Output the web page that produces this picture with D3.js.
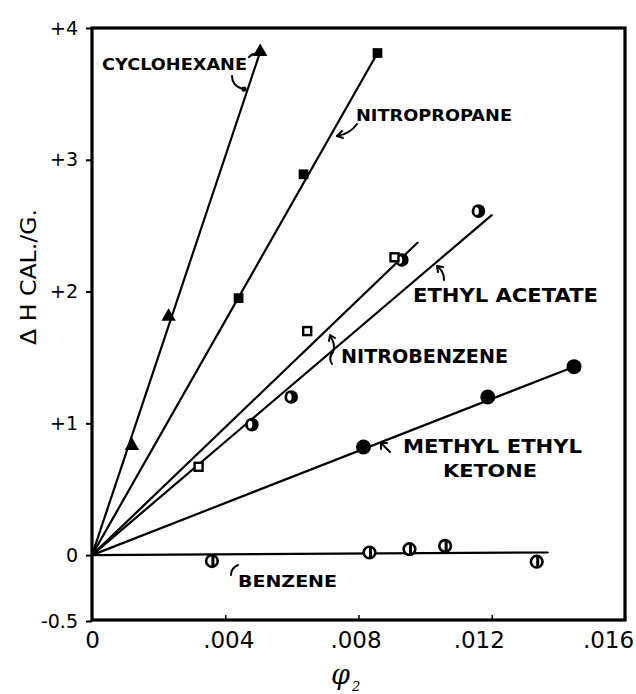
<!DOCTYPE html>
<html>
<head>
<meta charset="utf-8">
<script src="https://cdn.jsdelivr.net/npm/d3@7"></script>
<style>
  html, body { margin: 0; padding: 0; background: #fff; }
  svg { display: block; }
</style>
</head>
<body>
<svg id="chart" width="636" height="694"></svg>
<script>
// ---------------- data ----------------
const seriesNames = ["CYCLOHEXANE", "NITROPROPANE", "NITROBENZENE", "ETHYL ACETATE", "METHYL ETHYL KETONE", "BENZENE"];

const cyclohexaneX = [0.0012, 0.0023, 0.00505];
const cyclohexaneY = [0.83, 1.81, 3.82];

const nitropropaneX = [0.0044, 0.00635, 0.00857];
const nitropropaneY = [1.95, 2.89, 3.81];

const nitrobenzeneX = [0.0032, 0.00646, 0.00908];
const nitrobenzeneY = [0.67, 1.70, 2.26];

const ethylAcetateX = [0.0048, 0.00598, 0.0093, 0.0116];
const ethylAcetateY = [0.99, 1.20, 2.24, 2.61];

const mekX = [0.00815, 0.01188, 0.01447];
const mekY = [0.82, 1.20, 1.43];

const benzeneX = [0.0036, 0.00833, 0.00953, 0.0106, 0.01335];
const benzeneY = [-0.045, 0.02, 0.045, 0.07, -0.05];

// fitted straight lines: all start at the origin, end at these points
const lineEndX = [0.00505, 0.00857, 0.00977, 0.0120, 0.01447, 0.01368];
const lineEndY = [3.82, 3.81, 2.37, 2.58, 1.43, 0.02];

const xTicks = [0, 0.004, 0.008, 0.012, 0.016];
const xTickLabels = ["0", ".004", ".008", ".012", ".016"];
const yTicks = [-0.5, 0, 1, 2, 3, 4];
const yTickLabels = ["-0.5", "0", "+1", "+2", "+3", "+4"];

// ---------------- chart ----------------
const svg = d3.select("#chart");
const X0 = 92, X1 = 625, Y0 = 621, Y1 = 28;

const x = d3.scaleLinear().domain([0, 0.016]).range([X0, X1]);
const y = d3.scaleLinear().domain([-0.5, 4]).range([Y0, Y1]);

// axes (ticks + labels)
const yAxis = d3.axisLeft(y)
  .tickValues(yTicks)
  .tickFormat((d, i) => yTickLabels[i])
  .tickSize(6).tickPadding(8);
const gy = svg.append("g").attr("transform", `translate(${X0},0)`).call(yAxis);
gy.select(".domain").remove();
gy.selectAll("line").attr("stroke", "#000").attr("stroke-width", 2);
gy.selectAll("text").attr("font-family", "DejaVu Sans, sans-serif")
  .attr("font-size", 19).attr("fill", "#000");

const xAxis = d3.axisBottom(x)
  .tickValues(xTicks)
  .tickFormat((d, i) => xTickLabels[i])
  .tickSize(-5).tickPadding(12);
const gx = svg.append("g").attr("transform", `translate(0,${Y0 - 1})`).call(xAxis);
gx.select(".domain").remove();
gx.selectAll("line").attr("stroke", "#000").attr("stroke-width", 1.5);
// hand-lettered labels sit slightly left of their ticks toward the right end
const xLabelShift = [0, 3, -3, -13, -17];
gx.selectAll("text").attr("font-family", "DejaVu Sans, sans-serif")
  .attr("font-size", 23).attr("fill", "#000")
  .attr("dx", (d, i) => xLabelShift[i]);

// frame
svg.append("rect")
  .attr("x", X0).attr("y", Y1)
  .attr("width", X1 - X0).attr("height", (Y0 - 1) - Y1)
  .attr("fill", "none").attr("stroke", "#000").attr("stroke-width", 3.2);

// axis titles
svg.append("text")
  .attr("transform", "translate(36,277) rotate(-90)")
  .attr("text-anchor", "middle")
  .attr("font-family", "DejaVu Sans, sans-serif")
  .attr("font-size", 21)
  .attr("textLength", 136).attr("lengthAdjust", "spacingAndGlyphs")
  .text("Δ H CAL./G.");

svg.append("text")
  .attr("x", 331).attr("y", 684)
  .attr("font-family", "DejaVu Serif, serif")
  .attr("font-style", "italic")
  .attr("font-size", 27)
  .text("φ");
svg.append("text")
  .attr("x", 352).attr("y", 691)
  .attr("font-family", "DejaVu Serif, serif")
  .attr("font-style", "italic")
  .attr("font-size", 13)
  .text("2");

// fitted lines
const plot = svg.append("g");
lineEndX.forEach((ex, i) => {
  plot.append("line")
    .attr("x1", x(0)).attr("y1", y(0))
    .attr("x2", x(ex)).attr("y2", y(lineEndY[i]))
    .attr("stroke", "#000").attr("stroke-width", 2.2)
    .attr("stroke-linecap", "round");
});

function pts(xs, ys) { return xs.map((v, i) => ({ x: v, y: ys[i] })); }

// cyclohexane: filled triangles
plot.selectAll(".tri").data(pts(cyclohexaneX, cyclohexaneY)).join("path")
  .attr("d", d3.symbol(d3.symbolTriangle, 90))
  .attr("transform", d => `translate(${x(d.x)},${y(d.y)})`)
  .attr("fill", "#000");

// nitropropane: filled squares
plot.selectAll(".sq").data(pts(nitropropaneX, nitropropaneY)).join("path")
  .attr("d", d3.symbol(d3.symbolSquare, 95))
  .attr("transform", d => `translate(${x(d.x)},${y(d.y)})`)
  .attr("fill", "#000");

// ethyl acetate: black circles with white notch
const ea = plot.selectAll(".ea").data(pts(ethylAcetateX, ethylAcetateY)).join("g")
  .attr("transform", d => `translate(${x(d.x)},${y(d.y)})`);
ea.append("circle").attr("r", 6.8).attr("fill", "#000");
ea.append("ellipse").attr("cx", -1.8).attr("cy", 0).attr("rx", 2.2).attr("ry", 3.8).attr("fill", "#fff");

// nitrobenzene: small open squares
plot.selectAll(".nb").data(pts(nitrobenzeneX, nitrobenzeneY)).join("rect")
  .attr("x", d => x(d.x) - 4).attr("y", d => y(d.y) - 4)
  .attr("width", 8).attr("height", 8)
  .attr("fill", "#fff").attr("stroke", "#000").attr("stroke-width", 2.4);

// methyl ethyl ketone: filled circles
plot.selectAll(".mek").data(pts(mekX, mekY)).join("circle")
  .attr("cx", d => x(d.x)).attr("cy", d => y(d.y)).attr("r", 7.5)
  .attr("fill", "#000");

// benzene: open circles with vertical bar
const bz = plot.selectAll(".bz").data(pts(benzeneX, benzeneY)).join("g")
  .attr("transform", d => `translate(${x(d.x)},${y(d.y)})`);
bz.append("circle").attr("r", 5.8).attr("fill", "#fff").attr("stroke", "#000").attr("stroke-width", 2.6);
bz.append("rect").attr("x", -0.5).attr("y", -5.5).attr("width", 3).attr("height", 11).attr("fill", "#000");

// curve labels
const labelFont = "DejaVu Sans, sans-serif";
const labels = [
  { t: "CYCLOHEXANE", x: 102, y: 70, w: 145, fs: 16 },
  { t: "NITROPROPANE", x: 356, y: 121, w: 156, fs: 16 },
  { t: "ETHYL ACETATE", x: 413, y: 302, w: 185, fs: 19 },
  { t: "NITROBENZENE", x: 341, y: 363, w: 167, fs: 19 },
  { t: "METHYL ETHYL", x: 403, y: 453, w: 179, fs: 19 },
  { t: "KETONE", x: 443, y: 477, w: 94, fs: 18 },
  { t: "BENZENE", x: 238, y: 587, w: 99, fs: 16 }
];
svg.append("g").selectAll("text").data(labels).join("text")
  .attr("x", d => d.x).attr("y", d => d.y)
  .attr("font-family", labelFont).attr("font-weight", "bold")
  .attr("font-size", d => d.fs)
  .attr("textLength", d => d.w).attr("lengthAdjust", "spacingAndGlyphs")
  .text(d => d.t);

// pointer marks
const ann = svg.append("g").attr("fill", "none").attr("stroke", "#000").attr("stroke-width", 2).attr("stroke-linecap", "round");
ann.append("path").attr("d", "M232,76 Q232,86 243,89");
svg.append("circle").attr("cx", 244).attr("cy", 89).attr("r", 2.6).attr("fill", "#000");
ann.append("path").attr("d", "M249,57 Q254,52 258,55");
ann.append("path").attr("d", "M357,124 Q350,134 337,136");
ann.append("path").attr("d", "M337,136 l5,-5 M337,136 l6,2");
ann.append("path").attr("d", "M444,280 Q444,271 437,266");
ann.append("path").attr("d", "M437,266 l1,6 M437,266 l6,1");
ann.append("path").attr("d", "M332,364 Q328,358 333,352 Q336,344 330,336");
ann.append("path").attr("d", "M330,335 l-1,6 M330,335 l5,3");
ann.append("path").attr("d", "M390,452 L381,443");
ann.append("path").attr("d", "M381,443 l0,6 M381,443 l6,0");
ann.append("path").attr("d", "M231,575 Q231,568 238,565");
</script>
</body>
</html>
